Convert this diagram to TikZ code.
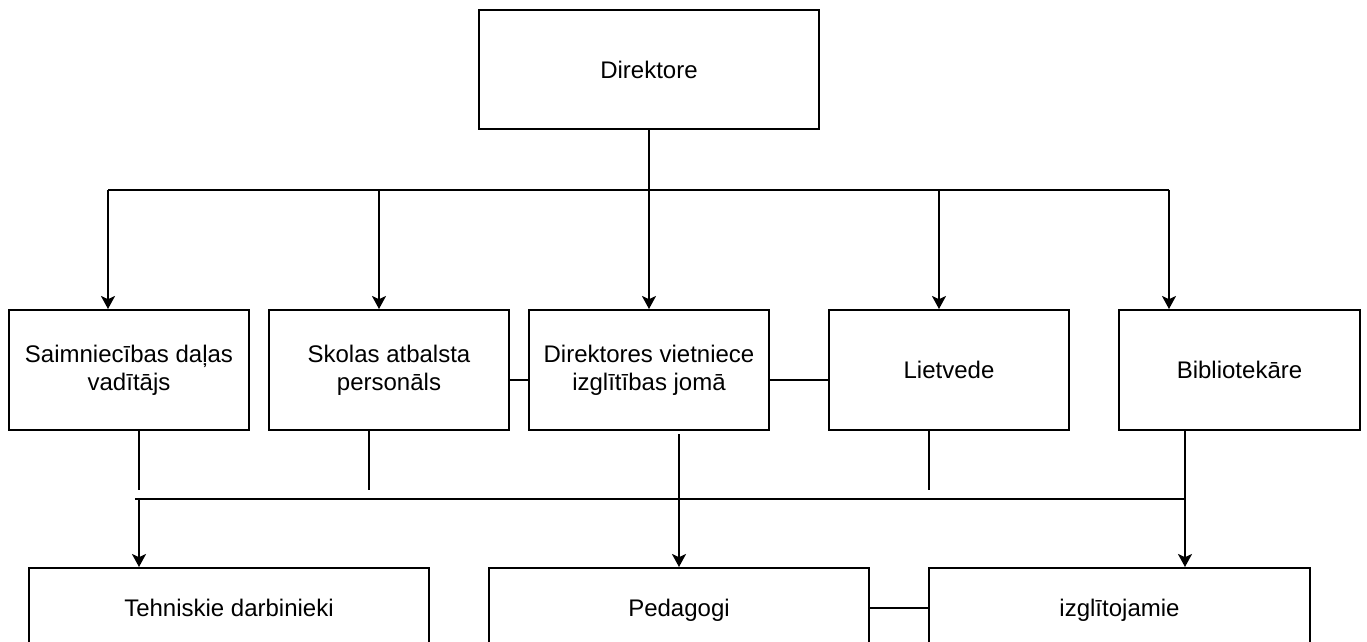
\documentclass[tikz,border=0pt]{standalone}
\usepackage{fontspec}
\setmainfont{Liberation Sans}
\usetikzlibrary{arrows.meta}
\newcommand{\capstrut}{\rule[-3pt]{0pt}{14.6pt}}
\begin{document}
\begin{tikzpicture}[x=0.5pt,y=-0.5pt,
  box/.style={draw,line width=1pt,inner sep=0pt,align=center,font=\fontsize{12}{14}\selectfont},
  lowbox/.style={box,minimum height=40pt,execute at begin node=\capstrut},
  conn/.style={line width=1pt},
  arr/.style={conn,-{Stealth[length=6.5pt,width=7pt,inset=1.6pt]}}]
\useasboundingbox (0,0) rectangle (1367,642);
\clip (0,0) rectangle (1367,642);
% nodes
\node[box,minimum width=170pt,minimum height=59.5pt] (dir) at (649,69.5) {Direktore};
\node[box,minimum width=120pt,minimum height=60pt] (sai) at (129,370) {Saimniecības daļas\\vadītājs};
\node[box,minimum width=120pt,minimum height=60pt] (sko) at (389,370) {Skolas atbalsta\\personāls};
\node[box,minimum width=120pt,minimum height=60pt] (dvi) at (649,370) {Direktores vietniece\\izglītības jomā};
\node[box,minimum width=120pt,minimum height=60pt] (lie) at (949,370) {Lietvede};
\node[box,minimum width=120.5pt,minimum height=60pt] (bib) at (1239.5,370) {Bibliotekāre};
\node[lowbox,minimum width=200pt] (teh) at (229,608) {Tehniskie darbinieki};
\node[lowbox,minimum width=190pt] (ped) at (679,608) {Pedagogi};
\node[lowbox,minimum width=190.5pt] (izg) at (1119.5,608) {izglītojamie};
% top bus
\coordinate (b1) at (108,190);
\coordinate (b2) at (379,190);
\coordinate (b4) at (939,190);
\coordinate (b5) at (1169,190);
\draw[conn] (b1) -- (b5);
\draw[arr] (dir) -- (dvi);
\draw[arr] (b1) -- (b1 |- sai.north);
\draw[arr] (b2) -- (b2 |- sko.north);
\draw[arr] (b4) -- (b4 |- lie.north);
\draw[arr] (b5) -- (b5 |- bib.north);
% side links
\draw[conn] ([yshift=-5pt]sko.east) -- ([yshift=-5pt]dvi.west);
\draw[conn] ([yshift=-5pt]dvi.east) -- ([yshift=-5pt]lie.west);
\draw[conn] (ped.east) -- (izg.west);
% lower stubs
\coordinate (s1) at (139,490);
\coordinate (s2) at (369,490);
\coordinate (s4) at (929,490);
\draw[conn] (s1 |- sai.south) -- (s1);
\draw[conn] (s2 |- sko.south) -- (s2);
\draw[conn] (s4 |- lie.south) -- (s4);
% lower bus
\coordinate (c0) at (135,499);
\coordinate (c1) at (139,499);
\coordinate (c5) at (1185,499);
\draw[conn] (c0) -- (c5);
\draw[arr] (c1) -- (c1 |- teh.north);
\draw[arr] (c5 |- bib.south) -- (c5 |- izg.north);
\draw[arr] ([yshift=-1.5pt]ped.north |- dvi.south) -- (ped.north);
\end{tikzpicture}
\end{document}
